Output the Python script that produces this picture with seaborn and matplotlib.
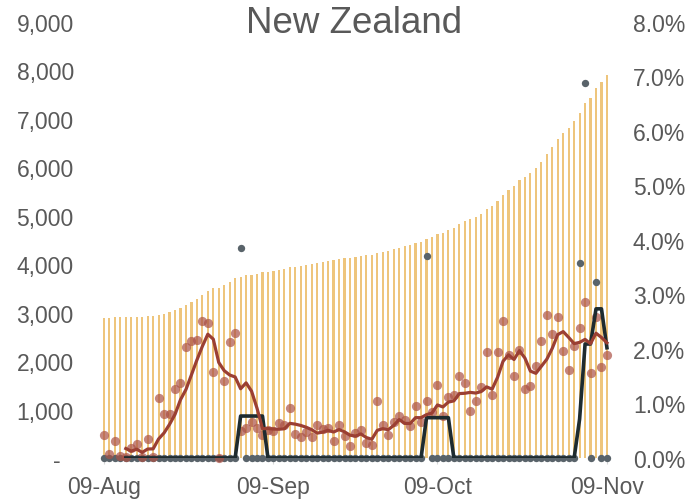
import numpy as np
import pandas as pd
import matplotlib.pyplot as plt
import matplotlib.ticker as mticker
import seaborn as sns

# values (left-axis units)
dates = pd.date_range('2021-08-09', '2021-11-09', freq='D')

cumulative = [2893, 2893, 2907, 2907, 2907, 2907, 2919, 2919, 2928, 2934,
              2961, 2981, 3010, 3052, 3093, 3161, 3223, 3291, 3374, 3457,
              3512, 3512, 3574, 3636, 3719, 3740, 3767, 3787, 3808, 3829,
              3849, 3864, 3884, 3900, 3935, 3950, 3967, 3985, 3998, 4020,
              4040, 4062, 4083, 4103, 4120, 4135, 4155, 4170, 4185, 4198,
              4230, 4258, 4280, 4308, 4340, 4380, 4401, 4436, 4463, 4525,
              4552, 4614, 4643, 4697, 4746, 4820, 4882, 4924, 4973, 5041,
              5138, 5200, 5310, 5434, 5537, 5620, 5738, 5800, 5888, 5986,
              6110, 6275, 6411, 6576, 6709, 6818, 6957, 7122, 7329, 7438,
              7630, 7769, 7907]

daily = [475, 90, 351, 48, 10, 210, 285, 27, 393, 27,
         1233, 909, 909, 1419, 1543, 2287, 2417, 2440, 2837, 2795,
         1777, 6, 1597, 2390, 2589, 564, 614, 738, 626, 481,
         579, 564, 717, 676, 1039, 496, 428, 531, 428, 682,
         599, 614, 357, 682, 448, 254, 517, 579, 310, 269,
         1184, 682, 475, 750, 874, 791, 667, 1081, 750, 1184,
         950, 1508, 874, 1253, 1308, 1701, 1543, 965, 1184, 1461,
         2184, 1308, 2196, 2837, 2120, 1701, 2225, 1426, 1494, 1890,
         2424, 2958, 2555, 2907, 2200, 1824, 2320, 2680, 3217, 1756,
         2907, 1880, 2128]

other = [0] * 93
other[25] = 4330
other[59] = 4160
other[87] = 4015
other[88] = 7748
other[90] = 3630

df = pd.DataFrame({'date': dates, 'cumulative': cumulative,
                   'daily': daily, 'other': other})
df['day'] = np.arange(len(df))
# 5-day trailing averages, as in the original chart
df['daily_avg'] = df['daily'].rolling(5).mean()
df['other_avg'] = df['other'].rolling(5).mean()

grey = '#595959'
plt.rcParams['font.family'] = ['Liberation Sans', 'DejaVu Sans']

fig = plt.figure(figsize=(6.97, 5.02), dpi=100)
ax = fig.add_axes([0.1397, 0.0857, 0.7405, 0.8685])

sns.barplot(data=df, x='day', y='cumulative', native_scale=True, width=0.4,
            color='#eec57c', saturation=1, errorbar=None, linewidth=0,
            ax=ax, zorder=1)
sns.scatterplot(data=df, x='day', y='other', color='#59636a', s=28,
                linewidth=0, ax=ax, zorder=2, clip_on=False)
sns.scatterplot(data=df, x='day', y='daily', color='#ab5246', alpha=0.7,
                s=44, linewidth=0, ax=ax, zorder=3, clip_on=False)
sns.lineplot(data=df, x='day', y='other_avg', color='#1e2b2f', lw=2.6,
             ax=ax, zorder=4)
sns.lineplot(data=df, x='day', y='daily_avg', color='#9b3f33', lw=2.3,
             ax=ax, zorder=5)

ax.set_xlim(-1.2, 93.2)
ax.set_ylim(0, 9000)
ax.set_yticks(range(0, 9001, 1000))
ax.set_yticklabels(['-  '] + [f'{v:,}' for v in range(1000, 9001, 1000)])
tick_days = df.loc[df['date'].dt.day == 9, 'day'].tolist()
ax.set_xticks(tick_days)
ax.set_xticklabels([d.strftime('%d-%b') for d in df.loc[tick_days, 'date']])
ax.set_xlabel('')
ax.set_ylabel('')
ax.tick_params(axis='x', length=4, color='#d9d9d9', pad=8,
               labelsize=16.5, labelcolor=grey)
ax.tick_params(axis='y', length=0, pad=17, labelsize=16.5, labelcolor=grey)
for s in ax.spines.values():
    s.set_visible(False)

ax2 = ax.twinx()
ax2.set_ylim(0, 0.08)
ax2.set_yticks(np.arange(0, 0.081, 0.01))
ax2.yaxis.set_major_formatter(mticker.PercentFormatter(1.0, decimals=1))
ax2.tick_params(axis='y', length=0, pad=14, labelsize=16.5, labelcolor=grey)
for s in ax2.spines.values():
    s.set_visible(False)

fig.text(0.508, 0.953, 'New Zealand', ha='center', va='center',
         fontsize=26.5, color=grey)

fig.savefig('out.png', dpi=100, facecolor='white')
